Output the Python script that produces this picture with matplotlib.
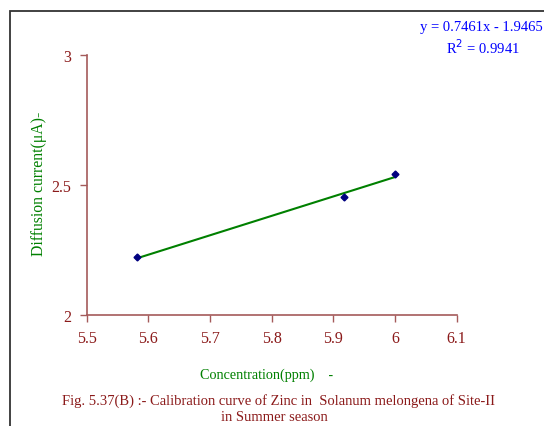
import matplotlib
matplotlib.use("Agg")
import matplotlib.pyplot as plt
from matplotlib.patches import Rectangle
import numpy as np

conc = [5.581, 5.917, 6.0]
current = [2.222, 2.454, 2.542]
slope, intercept = 0.7461, -1.9465
xticks = [5.5, 5.6, 5.7, 5.8, 5.9, 6.0, 6.1]
xticklabels = ["5.5", "5.6", "5.7", "5.8", "5.9", "6", "6.1"]
yticks = [2, 2.5, 3]
yticklabels = ["2", "2.5", "3"]

plt.rcParams['font.family'] = ['Liberation Serif', 'DejaVu Serif']
axis_col = '#a45a5a'
text_red = '#8b1a1a'
green = '#008000'
blue = '#0000ff'

fig = plt.figure(figsize=(5.44, 4.27), dpi=100)
fig.patches.append(Rectangle((10/544, -0.1), 1.2, 1 - 12/427 + 0.1, transform=fig.transFigure,
                             fill=False, edgecolor='#333333', linewidth=1.3))
ax = fig.add_axes([86.7/544, 1-316/427, (456.7-86.7)/544, (316-55.7)/427])

xf = np.array([min(conc), max(conc)])
ax.plot(xf, slope*xf + intercept, color=green, lw=1.5, zorder=2)
ax.plot(conc, current, linestyle='none', marker='D', ms=3.5, color='#000080', zorder=3)

ax.set_xlim(5.5, 6.1)
ax.set_ylim(2, 3)
ax.set_xticks(xticks)
ax.set_xticklabels(xticklabels)
ax.set_yticks(yticks)
ax.set_yticklabels(yticklabels)
for s in ['top', 'right']:
    ax.spines[s].set_visible(False)
for s in ['left', 'bottom']:
    ax.spines[s].set_color(axis_col)
    ax.spines[s].set_linewidth(1.2)
ax.tick_params(axis='both', colors=axis_col, labelcolor=text_red, labelsize=11.5, length=5, width=1.0)
ax.tick_params(axis='x', pad=6)
ax.tick_params(axis='y', pad=6)

fig.text(267/544, 1-375/427, "Concentration(ppm)    -", ha='center', va='center', color=green, fontsize=10.2)
fig.text(39/544, 1-184/427, "Diffusion current(μA)-", ha='center', va='center', rotation=90, color=green, fontsize=11.3)

fig.text(420/544, 1-27/427, "y = 0.7461x - 1.9465", ha='left', va='center', color=blue, fontsize=10.5)
fig.text(446/544, 1-48/427, "R$^2$ = 0.9941", ha='left', va='center', color=blue, fontsize=10.5)

fig.text(279/544, 1-401/427, "Fig. 5.37(B) :- Calibration curve of Zinc in  Solanum melongena of Site-II",
         ha='center', va='center', color=text_red, fontsize=10.5)
fig.text(274/544, 1-418/427, "in Summer season", ha='center', va='center', color=text_red, fontsize=10.5)

fig.savefig("out.png", dpi=100)
